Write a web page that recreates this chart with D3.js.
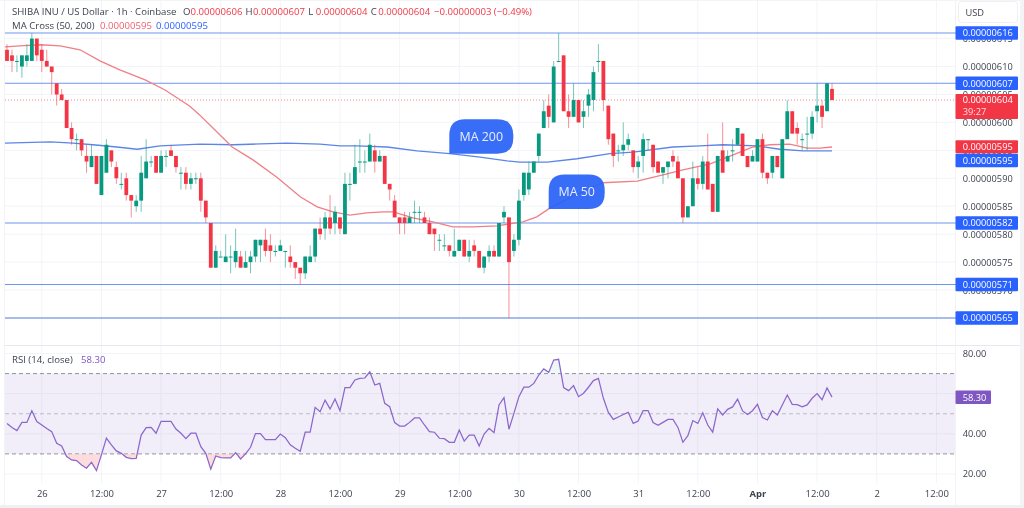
<!DOCTYPE html>
<html><head><meta charset="utf-8">
<script src="https://cdn.jsdelivr.net/npm/d3@7/dist/d3.min.js"></script>
<style>
html,body{margin:0;padding:0;background:#fff;overflow:hidden}
svg{display:block;filter:blur(0.45px)}
text{font-family:"Open Sans","Noto Sans",sans-serif}
</style></head><body>
<svg id="c" width="1024" height="508"></svg>
<script>
// prices in units of 0.00000001 USD, hourly candles starting 25 Mar 17:00
const opens=[613,612,611,610,611,611,615,613,611,610,
607,605,604,599,597,597,594,592,594,587,
591,595,592,589,590,587,585,586,590,593,
594,591,594,595,594,591,591,589,590,590,
586,582,574,576,575,576,575,576,574,575,
576,578,579,578,577,577,577,576,575,574,
573,575,576,581,581,583,582,583,580,589,
589,593,593,593,595,593,594,589,586,583,
583,582,584,584,583,582,581,579,578,578,
576,577,579,576,578,577,574,576,577,576,
583,583,577,579,587,588,591,594,599,603,
600,611,612,602,601,604,601,603,604,611,
611,603,598,595,595,596,595,592,594,597,
596,593,591,592,594,593,590,583,585,590,
589,593,589,584,595,593,595,596,598,594,
593,593,597,591,591,594,590,597,602,599,
597,598,598,602,603,602,606];
const closes=[611,611,611,612,612,615,612,611,610,609,
605,604,599,597,597,595,593,594,589,594,
596,593,590,589,587,586,586,591,593,593,
591,594,594,594,592,591,589,590,590,586,
583,574,577,576,576,576,577,574,575,576,
579,579,577,577,577,578,577,575,574,573,
576,576,581,580,583,581,584,581,589,589,
592,593,593,596,593,594,589,588,583,582,
582,583,584,584,582,580,580,579,578,577,
577,579,576,577,577,574,576,577,576,582,
584,575,579,586,591,591,593,598,602,601,
610,611,602,601,604,600,602,605,609,611,
604,597,594,595,596,597,592,593,597,597,
592,591,592,593,593,590,583,585,590,589,
593,588,584,594,591,594,595,599,594,592,
594,597,591,590,594,592,597,602,598,598,
597,598,601,603,601,607,604];
const highs=[614,613,612,612,614,616,615,614,613,610,
607,606,604,600,598,597,596,596,594,594,
597,595,593,591,591,587,587,594,597,594,
594,595,595,596,594,592,592,591,591,591,
586,582,578,577,580,578,581,577,577,577,
579,579,581,580,578,579,577,578,575,574,
576,578,581,583,584,587,585,583,591,591,
596,597,595,598,596,595,594,589,587,583,
584,584,586,585,584,583,581,580,580,578,
581,579,579,579,579,577,576,578,578,582,
585,583,580,588,591,593,593,598,604,605,
611,616,612,605,607,604,604,606,610,614,
611,603,598,596,600,598,595,594,598,597,
596,593,592,593,595,594,590,585,593,592,
594,598,589,594,600,595,597,599,598,594,
595,597,598,591,594,594,597,604,602,600,
598,601,602,607,604,607,607];
const lows=[611,609,609,608,610,611,611,609,610,605,
603,604,599,596,595,594,591,592,589,587,
591,592,589,588,586,583,584,584,590,592,
591,591,592,594,591,588,588,588,589,584,
582,574,574,576,575,573,574,574,574,573,
575,575,576,575,576,577,574,574,572,571,
572,575,575,579,579,580,580,580,580,586,
589,591,591,593,591,593,589,586,583,580,
580,582,582,582,582,580,577,577,577,576,
576,577,576,575,576,574,573,575,576,576,
582,565,576,578,586,587,591,593,599,599,
600,611,602,599,601,600,599,601,602,609,
602,596,592,593,594,595,591,590,591,595,
591,591,589,590,592,590,582,583,585,588,
588,588,584,584,591,593,593,596,594,592,
593,593,590,589,590,592,590,597,598,596,
595,595,597,600,599,602,604];
const ma50Hours=[-0.4,2.6,6.6,10.7,14.7,18.7,22.7,27.8,31.8,36.8,38.8,41.9,45.3,49.5,54.3,59,62.4,65.6,69,72.4,75.7,77.7,81.7,85.7,89.7,93.8,98.6,103.8,106.6,109.3,113.3,117.3,119.9,126.8,132,136,141.5,146.1,150.1,153.5,157.5,161,163.6,166];
const ma50Values=[613.5,613.7,613.9,613.7,613,611,609.4,607.6,605.8,602.9,601.3,598.6,595.6,593.3,590.2,586.7,584.9,584,583.4,583.8,584,584,582.9,582.2,581.3,581.3,581.5,582.2,583.1,584.7,586.5,588.3,589.2,589.5,590.6,591.5,592.6,594.2,595.6,596,596.1,595.4,595.4,595.6];
const ma200Hours=[-0.4,8.7,13.3,17.3,22.1,26.2,30.8,38.8,45.5,56.3,63,67,70.4,76.5,82.5,89.1,95.2,100.6,103.2,108.7,114.7,121.3,126,134,139.4,144.1,150.9,155.5,160.2,166];
const ma200Values=[596.3,596.5,596.3,596,595.6,595.2,595.8,596.1,596,596.3,596.1,595.8,595.8,595.6,594.9,594.4,593.8,593.1,592.9,592.9,593.5,594.4,594.7,595.6,595.8,596,595.8,595.2,594.9,594.9];
const rsiValues=[45.2,43.2,41.6,45.7,45.7,51.5,46.1,44.4,42.7,41.1,
35.3,34.0,28.7,27.0,26.7,24.5,22.9,25.8,21.7,29.5,
37.9,34.5,31.5,30.3,28.3,27.7,27.8,39.4,43.1,43.2,
40.3,46.2,46.2,46.2,42.4,40.3,37.6,40.3,40.3,33.6,
30.3,22.4,29.0,28.2,28.0,28.0,30.6,27.5,30.0,33.3,
40.1,40.1,37.1,37.1,37.1,39.9,38.1,34.5,32.8,31.3,
40.8,40.8,53.2,51.0,56.8,52.4,57.3,51.5,63.0,63.0,
66.8,67.6,67.8,70.9,64.3,65.1,55.2,53.5,45.6,43.9,
43.9,45.7,47.9,47.9,44.4,41.1,40.8,37.8,37.6,35.8,
35.8,41.9,36.4,39.4,39.4,34.0,39.9,42.7,40.6,54.4,
58.0,42.3,50.2,58.5,63.2,63.2,65.1,69.3,72.3,70.6,
76.7,77.1,63.0,61.5,64.0,58.5,60.2,63.2,66.5,67.6,
57.7,50.7,47.2,48.4,49.6,50.7,45.2,46.4,51.5,51.5,
45.6,44.2,45.7,47.2,47.2,43.2,35.8,39.1,46.6,45.2,
50.5,44.4,40.8,52.4,49.4,52.2,53.4,57.3,51.4,49.6,
51.5,54.7,48.1,46.9,51.5,49.4,54.4,59.3,54.7,54.5,
53.4,54.4,57.7,60.0,57.0,62.8,58.3];
const levelPrices=[616,607,582,571,565];
const priceTicks=[615,610,605,600,595,590,585,580,575,570];
const rsiTicks=[80,40,20];
const rsiGrid=[80,60,40,20];
const rsiBands=[70,50,30];
const timeHours=[7,19,31,43,55,67,79,91,103,115,127,139,151,163,175,187];
const timeLabels=["26","12:00","27","12:00","28","12:00","29","12:00","30","12:00","31","12:00","Apr","12:00","2","12:00"];
const noteLabels=["MA 200","MA 50"];
const noteHours=[89,109];
const notePrices=[594.4,584.5];
const currentPrice=604, ma50Last=595, ma200Last=595, rsiLast=58.30;

const UP="#089981",DOWN="#f23645",BLUE="#2962ff",PURPLE="#7e57c2",AX="#3d4250",GRID="#f2f4f8";
const L=5,R=955,FS=9.25;
const svg=d3.select("#c");
const x=d3.scaleLinear().domain([0,166]).range([7,832]);
const y=d3.scaleLinear().domain([565,616]).range([318,33]);
const ry=d3.scaleLinear().domain([20,80]).range([474,353.5]);
const fmt=p=>"0.00000"+p;

// frame
svg.append("rect").attr("width",1024).attr("height",508).attr("fill","#fff");
svg.append("rect").attr("x",1020).attr("width",4).attr("height",508).attr("fill","#f4f4f6");
svg.append("rect").attr("y",0).attr("width",1024).attr("height",1).attr("fill","#f4f4f6");
svg.append("rect").attr("y",505).attr("width",1024).attr("height",3).attr("fill","#f0f0f3");

// grids
const g=svg.append("g");
g.selectAll(".vg").data(timeHours).join("line").attr("x1",d=>x(d)).attr("x2",d=>x(d)).attr("y1",0).attr("y2",483).attr("stroke",GRID);
g.selectAll(".hg").data(priceTicks).join("line").attr("x1",L).attr("x2",R).attr("y1",d=>y(d)).attr("y2",d=>y(d)).attr("stroke",GRID);
g.selectAll(".rg").data(rsiGrid).join("line").attr("x1",L).attr("x2",R).attr("y1",d=>ry(d)).attr("y2",d=>ry(d)).attr("stroke",GRID);
g.append("line").attr("x1",L).attr("x2",1020).attr("y1",345.5).attr("y2",345.5).attr("stroke","#e6e8ee");
g.append("line").attr("x1",R+.5).attr("x2",R+.5).attr("y1",0).attr("y2",505).attr("stroke","#f2f3f6");
g.append("line").attr("x1",L-.5).attr("x2",L-.5).attr("y1",0).attr("y2",505).attr("stroke","#f2f3f6");

// support / resistance levels
svg.selectAll(".lvl").data(levelPrices).join("line")
 .attr("x1",L).attr("x2",958).attr("y1",d=>y(d)).attr("y2",d=>y(d))
 .attr("stroke",d=>d===565?"#8aa6e0":"#6f95ee").attr("stroke-width",d=>d===565?1.6:1.1);
svg.append("line").attr("x1",L).attr("x2",958).attr("y1",y(currentPrice)).attr("y2",y(currentPrice))
 .attr("stroke",DOWN).attr("stroke-dasharray","1 2").attr("opacity",.6);

// moving averages
const ma=(hs,vs,c)=>svg.append("path").datum(hs.map((h,i)=>[h,vs[i]]))
 .attr("d",d3.line().x(d=>x(d[0])).y(d=>y(d[1]))).attr("fill","none").attr("stroke",c).attr("stroke-width",1.3);
ma(ma200Hours,ma200Values,"#5b86e8");
ma(ma50Hours,ma50Values,"#f07f86");

// candles
const idx=d3.range(opens.length);
const col=i=>closes[i]>=opens[i]?UP:DOWN;
svg.append("g").selectAll("line").data(idx).join("line")
 .attr("x1",i=>x(i)).attr("x2",i=>x(i)).attr("y1",i=>y(highs[i])).attr("y2",i=>y(lows[i]))
 .attr("stroke",col).attr("stroke-width",1).attr("opacity",.55);
svg.append("g").selectAll("rect").data(idx).join("rect")
 .attr("x",i=>x(i)-1.9).attr("width",3.8)
 .attr("y",i=>Math.min(y(opens[i]),y(closes[i])))
 .attr("height",i=>Math.max(1,Math.abs(y(opens[i])-y(closes[i]))))
 .attr("fill",col);

// annotations (speech bubbles, tail corner at the MA line)
const noteW=[64,56],noteH=34.5;
noteLabels.forEach((t,i)=>{
 const ax=x(noteHours[i]),ab=y(notePrices[i]),w=noteW[i],h=noteH,r=16;
 const p=d3.path();
 p.moveTo(ax,ab);p.lineTo(ax,ab-h+r);p.quadraticCurveTo(ax,ab-h,ax+r,ab-h);
 p.lineTo(ax+w-r,ab-h);p.quadraticCurveTo(ax+w,ab-h,ax+w,ab-h+r);
 p.lineTo(ax+w,ab-r);p.quadraticCurveTo(ax+w,ab,ax+w-r,ab);p.closePath();
 svg.append("path").attr("d",p.toString()).attr("fill","#2962f8").attr("fill-opacity",.93);
 svg.append("text").attr("x",ax+w/2).attr("y",ab-h/2+4.5).attr("text-anchor","middle")
  .attr("fill","#e9eeff").attr("font-size",12.4).text(t);
});

// price axis
const pAxis=d3.axisRight(y).tickValues(priceTicks).tickFormat(fmt).tickSize(0).tickPadding(0);
const pg=svg.append("g").attr("transform","translate(962.7,0)").call(pAxis);
pg.select(".domain").remove();
pg.selectAll("text").attr("font-size",FS).attr("fill",AX);

// tags
const tag=(yc,h,fill,txt)=>{
 svg.append("rect").attr("x",955.5).attr("width",62.5).attr("y",yc-h/2).attr("height",h).attr("rx",1).attr("fill",fill);
 svg.append("text").attr("x",962.7).attr("y",yc+3.4).attr("fill","#fff").attr("font-size",FS).text(txt);
};
levelPrices.forEach(p=>tag(y(p),13.5,BLUE,fmt(p)));
tag(y(ma50Last)-3.7,13,DOWN,fmt(ma50Last));
tag(y(ma200Last)+10.2,13.5,BLUE,fmt(ma200Last));
svg.append("rect").attr("x",955.5).attr("width",62.5).attr("y",y(currentPrice)-6).attr("height",25).attr("rx",1).attr("fill",DOWN);
svg.append("text").attr("x",962.7).attr("y",y(currentPrice)+3.4).attr("fill","#fff").attr("font-size",FS).text(fmt(currentPrice));
svg.append("text").attr("x",962.7).attr("y",y(currentPrice)+15.2).attr("fill","#ffdfe2").attr("font-size",FS).text("39:27");

// USD box
svg.append("rect").attr("x",958.5).attr("y",1.5).attr("width",59).attr("height",21).attr("rx",3).attr("fill","#fff").attr("stroke","#eff0f3");
svg.append("text").attr("x",965.5).attr("y",15.5).attr("fill",AX).attr("font-size",FS).text("USD");

// RSI pane
svg.append("rect").attr("x",L).attr("width",R-L).attr("y",ry(70)).attr("height",ry(30)-ry(70)).attr("fill",PURPLE).attr("opacity",.1);
svg.selectAll(".rb").data(rsiBands).join("line").attr("x1",L).attr("x2",R).attr("y1",d=>ry(d)).attr("y2",d=>ry(d))
 .attr("stroke","#787b86").attr("stroke-dasharray","4 3").attr("opacity",d=>d===50?.45:.8);
const defs=svg.append("defs");
defs.append("clipPath").attr("id","ob").append("rect").attr("x",L).attr("y",0).attr("width",R-L).attr("height",ry(70));
defs.append("clipPath").attr("id","os").append("rect").attr("x",L).attr("y",ry(30)).attr("width",R-L).attr("height",60);
const grd=defs.append("linearGradient").attr("id","pk").attr("x1",0).attr("x2",0).attr("y1",0).attr("y2",1);
grd.append("stop").attr("offset","0").attr("stop-color",DOWN).attr("stop-opacity",.02);
grd.append("stop").attr("offset","1").attr("stop-color",DOWN).attr("stop-opacity",.28);
const grd2=defs.append("linearGradient").attr("id","gn").attr("x1",0).attr("x2",0).attr("y1",0).attr("y2",1);
grd2.append("stop").attr("offset","0").attr("stop-color",UP).attr("stop-opacity",.08);
grd2.append("stop").attr("offset","1").attr("stop-color",UP).attr("stop-opacity",0);
const aLow=d3.area().x((d,i)=>x(i)).y0(ry(30)).y1(d=>ry(d));
svg.append("path").datum(rsiValues).attr("d",aLow).attr("fill","#fbc4c8").attr("opacity",.6).attr("clip-path","url(#os)");
svg.append("path").datum(rsiValues).attr("d",d3.area().x((d,i)=>x(i)).y0(ry(70)).y1(d=>ry(d))).attr("fill","url(#gn)").attr("clip-path","url(#ob)");
svg.append("path").datum(rsiValues).attr("d",d3.line().x((d,i)=>x(i)).y(d=>ry(d))).attr("fill","none").attr("stroke","#8a67cc").attr("stroke-width",1.25);
const rAxis=d3.axisRight(ry).tickValues(rsiTicks).tickFormat(d3.format(".2f")).tickSize(0).tickPadding(0);
const rg=svg.append("g").attr("transform","translate(962.7,0)").call(rAxis);
rg.select(".domain").remove();
rg.selectAll("text").attr("font-size",FS).attr("fill",AX);
svg.append("rect").attr("x",955.5).attr("width",35.5).attr("y",ry(rsiLast)-6.5).attr("height",13.5).attr("rx",1).attr("fill",PURPLE);
svg.append("text").attr("x",962.7).attr("y",ry(rsiLast)+3.6).attr("fill","#fff").attr("font-size",FS).text(rsiLast.toFixed(2));

// time axis
const tAxis=d3.axisBottom(x).tickValues(timeHours).tickFormat((d,i)=>timeLabels[i]).tickSize(0).tickPadding(0);
const tg=svg.append("g").attr("transform","translate(0,490)").call(tAxis);
tg.select(".domain").remove();
tg.selectAll("text").attr("font-size",FS+.2).attr("fill",AX).attr("font-weight",(d,i)=>timeLabels[i]==="Apr"?700:400);

// legends
const leg=(xp,yp,t,c)=>svg.append("text").attr("x",xp).attr("y",yp).attr("font-size",9.6).attr("fill",c).text(t);
leg(12,14.5,"SHIBA INU / US Dollar · 1h · Coinbase",AX);
[["O",opens[166]],["H",highs[166]],["L",lows[166]],["C",closes[166]]].forEach((o,i)=>{
 const xp=183+i*62.6;
 leg(xp,14.5,o[0],AX);
 leg(xp+7.5,14.5,fmt(o[1]),DOWN);
});
leg(434,14.5,"−0.00000003 (−0.49%)",DOWN);
leg(12,28.5,"MA Cross (50, 200)",AX);
leg(100,28.5,fmt(ma50Last),"#ef5f6c");
leg(156,28.5,fmt(ma200Last),BLUE);
leg(12,362.5,"RSI (14, close)",AX);
leg(81,362.5,rsiLast.toFixed(2),PURPLE);
</script>
</body></html>
